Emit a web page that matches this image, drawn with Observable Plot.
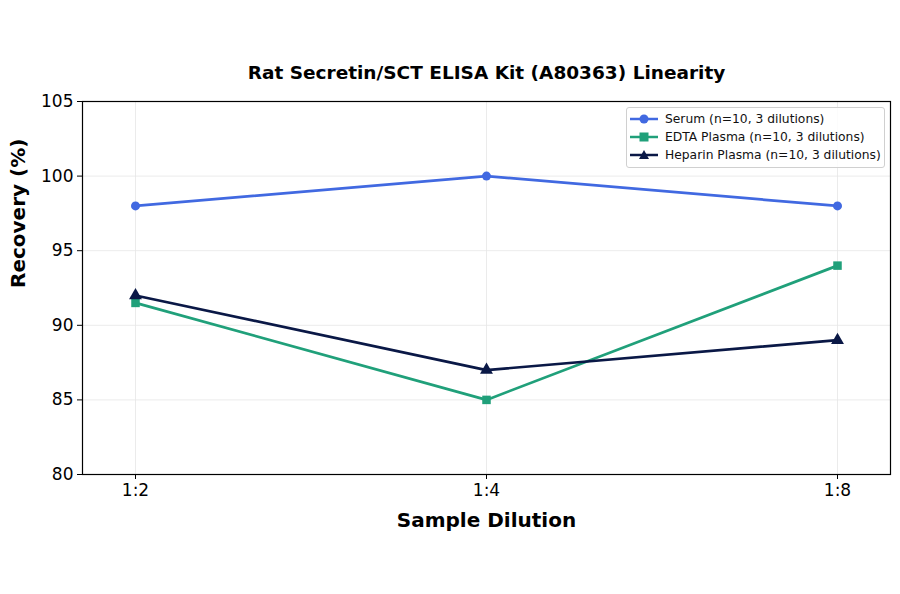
<!DOCTYPE html>
<html>
<head>
<meta charset="utf-8">
<script src="https://cdn.jsdelivr.net/npm/d3@7"></script>
<script src="https://cdn.jsdelivr.net/npm/@observablehq/plot@0.6"></script>
<style>
  html, body { margin: 0; padding: 0; background: #fff; }
  #wrap { position: relative; width: 900px; height: 594px; font-family: "DejaVu Sans", sans-serif; }
  #legend { position: absolute; left: 626px; top: 107px; width: 257px; padding: 2px 0 3px 0;
    border: 1px solid #d0d0d0; border-radius: 3px; background: rgba(255,255,255,0.85);
    font-size: 12.3px; color: #111; }
  .item { display: flex; align-items: center; height: 18px; }
  .item svg { margin-left: 3px; margin-right: 7px; }
</style>
</head>
<body>
<div id="wrap"><div id="legend"></div></div>
<script>
const dilutions = ["1:2", "1:4", "1:8"];
const serum = [98, 100, 98];
const edta = [91.5, 85, 94];
const heparin = [92, 87, 89];
const seriesNames = ["Serum (n=10, 3 dilutions)", "EDTA Plasma (n=10, 3 dilutions)", "Heparin Plasma (n=10, 3 dilutions)"];
const seriesColors = ["#4169e1", "#20a07a", "#0a1846"];
const seriesSymbols = ["circle", "square", "triangle"];
const yTicks = [80, 85, 90, 95, 100, 105];
const title = "Rat Secretin/SCT ELISA Kit (A80363) Linearity";
const xLabel = "Sample Dilution";
const yLabel = "Recovery (%)";

const values = [serum, edta, heparin];
const rows = values.map((vals, i) => dilutions.map((d, j) => ({dilution: d, value: vals[j], series: seriesNames[i]})));

const marks = [
  Plot.gridX(dilutions, {stroke: "#e6e6e6", strokeOpacity: 1, strokeWidth: 0.8}),
  Plot.gridY(yTicks, {stroke: "#e6e6e6", strokeOpacity: 1, strokeWidth: 0.8}),
];
rows.forEach((r, i) => {
  marks.push(Plot.line(r, {x: "dilution", y: "value", stroke: seriesColors[i], strokeWidth: 2.7}));
  marks.push(Plot.dot(r, {x: "dilution", y: "value", fill: seriesColors[i], symbol: seriesSymbols[i], r: i === 0 ? 4.5 : 4.8, stroke: "none"}));
});
marks.push(
  Plot.frame({stroke: "#000", strokeWidth: 1.2}),
  Plot.axisX({tickSize: 5, fontSize: 17, tickPadding: 4, label: null, tickFormat: d => d}),
  Plot.axisY({ticks: yTicks, tickSize: 5, fontSize: 17, tickPadding: 4, label: null}),
  Plot.text([title], {frameAnchor: "top", dy: -36, fontSize: 18.5, fontWeight: "bold", fill: "#000"}),
  Plot.text([xLabel], {frameAnchor: "bottom", dy: 52, fontSize: 20, fontWeight: "bold", fill: "#000"}),
  Plot.text([yLabel], {frameAnchor: "left", dx: -64, rotate: -90, fontSize: 20, fontWeight: "bold", fill: "#000"})
);

const chart = Plot.plot({
  width: 900,
  height: 594,
  marginTop: 101,
  marginBottom: 120,
  marginLeft: 82,
  marginRight: 10,
  style: {fontFamily: "DejaVu Sans, sans-serif", color: "#000", background: "#fff"},
  x: {type: "point", domain: dilutions, padding: 0.148},
  y: {domain: [80, 105]},
  marks
});
const wrap = document.getElementById("wrap");
wrap.insertBefore(chart, wrap.firstChild);

const legend = document.getElementById("legend");
seriesNames.forEach((name, i) => {
  const item = document.createElement("div");
  item.className = "item";
  const c = seriesColors[i];
  let marker;
  if (seriesSymbols[i] === "circle") marker = `<circle cx="14" cy="7" r="4.5" fill="${c}"/>`;
  else if (seriesSymbols[i] === "square") marker = `<rect x="9.5" y="2.5" width="9" height="9" fill="${c}"/>`;
  else marker = `<path d="M14,2 L19,11 L9,11 Z" fill="${c}"/>`;
  item.innerHTML = `<svg width="28" height="14"><line x1="0" y1="7" x2="28" y2="7" stroke="${c}" stroke-width="2.5"/>${marker}</svg><span>${name}</span>`;
  legend.appendChild(item);
});
</script>
</body>
</html>
